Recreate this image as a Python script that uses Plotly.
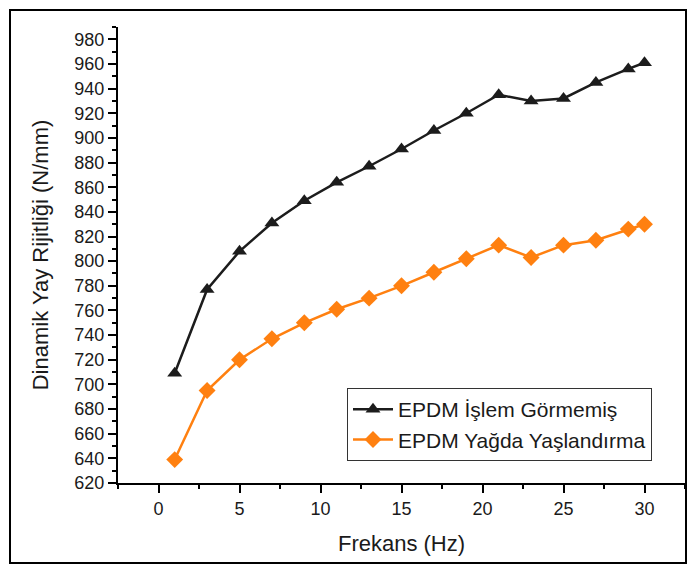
import plotly.graph_objects as go

freq = [1, 3, 5, 7, 9, 11, 13, 15, 17, 19, 21, 23, 25, 27, 29, 30]
untreated = [709, 777, 808, 831, 849, 864, 877, 891, 906, 920, 935, 930, 932, 945, 956, 961]
oil_aged = [639, 695, 720, 737, 750, 761, 770, 780, 791, 802, 813, 803, 813, 817, 826, 830]
names = ["EPDM İşlem Görmemiş", "EPDM Yağda Yaşlandırma"]
y_ticks = list(range(620, 981, 20))
x_ticks = [0, 5, 10, 15, 20, 25, 30]

FONT = "Liberation Sans, Arial, sans-serif"
TXT = "#1a1a1a"

fig = go.Figure()
fig.add_trace(go.Scatter(x=freq, y=untreated, name=names[0], mode="lines+markers",
                         line=dict(color="#1c1c1c", width=2.5),
                         marker=dict(symbol="triangle-up", size=13, color="#1c1c1c")))
fig.add_trace(go.Scatter(x=freq, y=oil_aged, name=names[1], mode="lines+markers",
                         line=dict(color="#FF8010", width=2.5),
                         marker=dict(symbol="diamond", size=13, color="#FF8010")))

L, R, T, B = 118, 4, 27, 83
W, H = 689, 566
pw, ph = W - L - R, H - T - B

def px(xp):
    return (xp - L) / pw

def py(yp):
    return (H - B - yp) / ph

fig.update_layout(
    width=W, height=H,
    margin=dict(l=L, r=R, t=T, b=B),
    paper_bgcolor="white", plot_bgcolor="white",
    font=dict(family=FONT, color=TXT),
    showlegend=True,
    legend=dict(x=px(652), xanchor="right", y=py(461), yanchor="bottom",
                bgcolor="white", bordercolor="#333", borderwidth=1,
                font=dict(size=21, family=FONT, color=TXT),
                itemwidth=40, tracegroupgap=0),
    xaxis=dict(range=[-2.5, 32.5], tickvals=x_ticks, ticktext=[str(v) for v in x_ticks],
               showgrid=False, zeroline=False, showline=True, linecolor="black", linewidth=2,
               ticks="outside", ticklen=8, tickwidth=2, tickcolor="black",
               tickfont=dict(size=18, family=FONT, color=TXT),
               minor=dict(dtick=2.5, tick0=0, ticks="outside", ticklen=4, tickwidth=2, tickcolor="black"),
               title=dict(text="Frekans (Hz)", font=dict(size=22, family=FONT, color=TXT), standoff=18)),
    yaxis=dict(range=[620, 990], tickvals=y_ticks, ticktext=[str(v) for v in y_ticks],
               showgrid=False, zeroline=False, showline=True, linecolor="black", linewidth=2,
               ticks="outside", ticklen=8, tickwidth=2, tickcolor="black",
               tickfont=dict(size=18, family=FONT, color=TXT),
               minor=dict(dtick=10, tick0=620, ticks="outside", ticklen=4, tickwidth=2, tickcolor="black"),
               title=dict(text="Dinamik Yay Rijitliği (N/mm)", font=dict(size=22, family=FONT, color=TXT), standoff=20)),
    shapes=[dict(type="rect", xref="paper", yref="paper",
                 x0=px(10), x1=px(686), y0=py(563), y1=py(10),
                 line=dict(color="black", width=2), fillcolor="rgba(0,0,0,0)", layer="below")],
)

fig.write_html("out.html")
